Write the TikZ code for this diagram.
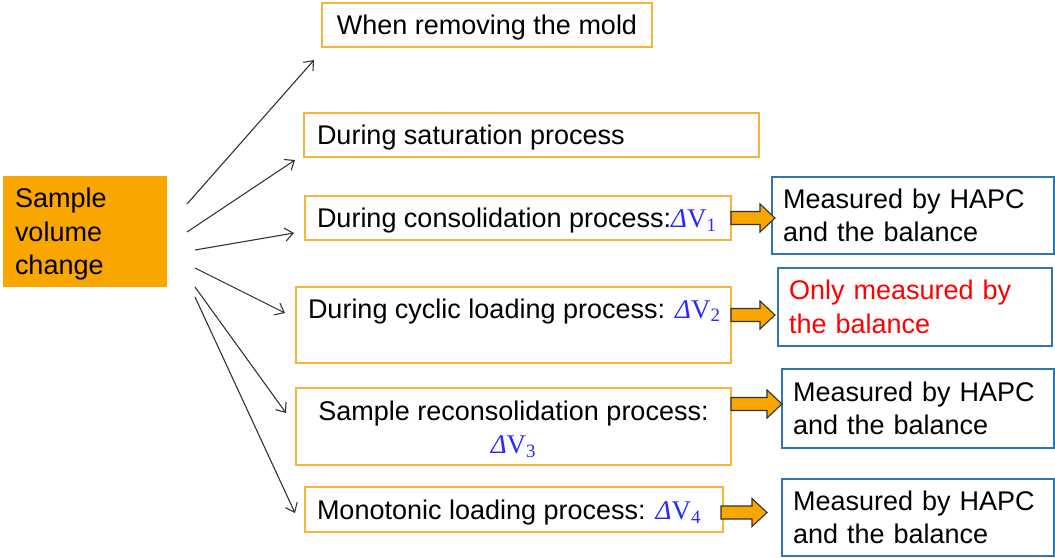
\documentclass[tikz,border=0pt]{standalone}
\usepackage{fontspec}
\setmainfont{Liberation Sans}
\newfontfamily\mathser{Liberation Serif}
\usetikzlibrary{arrows.meta,calc}
\definecolor{orfill}{RGB}{250,166,0}
\definecolor{orline}{RGB}{247,180,60}
\definecolor{blline}{RGB}{46,117,182}
\definecolor{dvblue}{RGB}{40,40,255}
\definecolor{arrline}{RGB}{50,50,50}
\definecolor{redtxt}{RGB}{255,0,0}
\newcommand{\dV}[1]{{\color{dvblue}\mathser\textit{Δ}V\textsubscript{#1}}}
\newcommand{\low}[1]{\raisebox{-3pt}[\height][\depth]{#1}}
\newcommand{\blkarrow}[2]{%
  \path[blk] let \p1=(#1), \p2=(#2) in
    (\x1,\y1+6.5pt) -- (\x2-15pt,\y1+6.5pt) -- (\x2-15pt,\y1+14pt) -- (\x2,\y1)
    -- (\x2-15pt,\y1-14pt) -- (\x2-15pt,\y1-6.5pt) -- (\x1,\y1-6.5pt) -- cycle;}
\begin{document}
\begin{tikzpicture}[x=1pt,y=-1pt,
  every node/.style={font=\fontsize{27}{33.5}\selectfont, inner ysep=0pt, outer sep=0pt, anchor=north west},
  obox/.style={draw=orline, line width=1.5pt, inner xsep=12pt, align=left},
  bbox/.style={draw=blline, line width=1.5pt, inner xsep=11pt, align=left},
  src/.style={fill=orfill, inner xsep=12pt},
  thin/.style={draw=arrline, line width=1.1pt, -{Straight Barb[length=8pt,width=13pt]}},
  blk/.style={draw=arrline, fill=orfill, line width=1.1pt, line join=miter}
]
\useasboundingbox (0,0) rectangle (1055,557);

\node[src, minimum width=164pt, minimum height=111pt] (src) at (3,176)
  {\low{\begin{tabular}{@{}p{140pt}@{}}Sample\\volume\\change\end{tabular}}};

\node[obox, minimum height=44pt] (b1) at (322,3) {\low{\makebox[306pt][c]{When removing the mold}}};
\node[obox, inner xsep=13pt, minimum height=44pt] (b2) at (304,113) {\low{\makebox[429pt][l]{During saturation process}}};
\node[obox, minimum height=44pt] (b3) at (305,196) {\low{\makebox[402pt][l]{During consolidation process:\dV{1}}}};
\node[obox, minimum height=76pt] (b4) at (296,287) {\makebox[411pt][l]{During cyclic loading process: \dV{2}}\\\mbox{}};
\node[obox, align=center, minimum height=77pt] (b5) at (296,388) {\low{\makebox[411pt][c]{Sample reconsolidation process:}}\\\low{\dV{3}}};
\node[obox, minimum height=45pt] (b6) at (305,487) {\low{\makebox[394pt][l]{Monotonic loading process: \dV{4}}}};

\node[bbox, text width=260pt, minimum height=77pt] (m1) at (772,177) {Measured by HAPC\\and the balance};
\node[bbox, text width=252pt, minimum height=78pt, text=redtxt] (m2) at (778,268) {Only measured by\\the balance};
\node[bbox, text width=250pt, minimum height=79pt] (m3) at (782,369) {Measured by HAPC\\and the balance};
\node[bbox, text width=250pt, minimum height=77pt] (m4) at (782,479) {Measured by HAPC\\and the balance};

\coordinate (s1) at (187,204); \coordinate (e1) at (314,60);
\coordinate (s2) at (187,232); \coordinate (e2) at (295,160);
\coordinate (s3) at (195,250); \coordinate (e3) at (294,233);
\coordinate (s4) at (195,268); \coordinate (e4) at (285,313);
\coordinate (s5) at (195,287); \coordinate (e5) at (286,413);
\coordinate (s6) at (195,297); \coordinate (e6) at (295,513);
\foreach \i in {1,...,6} \draw[thin] (s\i) -- (e\i);

\blkarrow{b3.east}{$(m1.west)+(3,0)$}
\blkarrow{$(b4.north east)+(0,28)$}{$(m2.west)+(-3,0)$}
\blkarrow{$(b5.north east)+(0,16)$}{m3.west}
\blkarrow{$(b6.east)+(-2,3)$}{$(m4.west)+(-15,0)$}
\end{tikzpicture}
\end{document}
